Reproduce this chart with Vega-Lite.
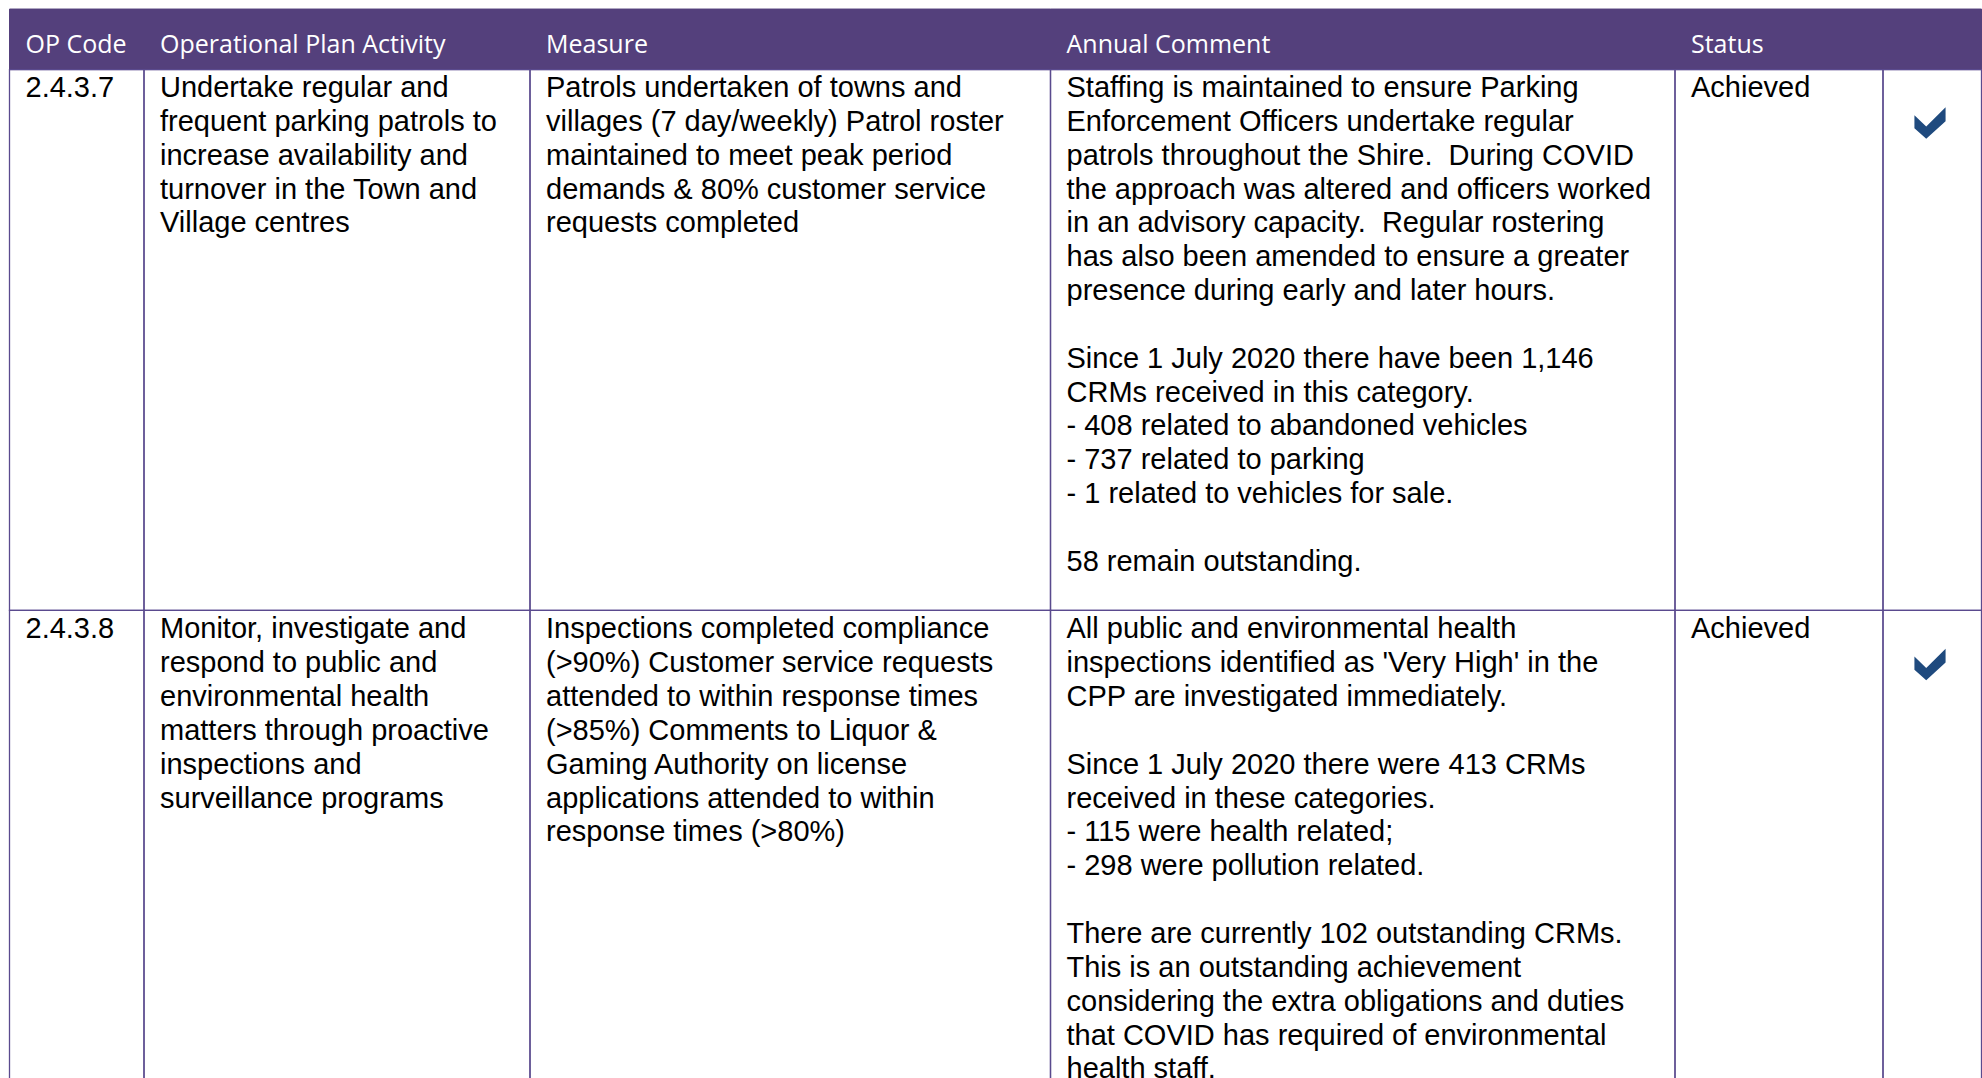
{
  "$schema": "https://vega.github.io/schema/vega-lite/v6.json",
  "width": 1982,
  "height": 1078,
  "autosize": {"type": "none"},
  "padding": 0,
  "background": "white",
  "config": {"view": {"stroke": null}},
  "datasets": {
    "columns": [
      {"col": "OP Code", "left": 9.5, "right": 144},
      {"col": "Operational Plan Activity", "left": 144, "right": 530},
      {"col": "Measure", "left": 530, "right": 1050.5},
      {"col": "Annual Comment", "left": 1050.5, "right": 1675},
      {"col": "Status", "left": 1675, "right": 1883},
      {"col": "Icon", "left": 1883, "right": 1981.5}
    ],
    "rows": [
      {"row": "header", "top": -2.57, "bottom": -0.78, "first": -1.27},
      {"row": "2.4.3.7", "top": -0.78, "bottom": 15.2, "first": 0.03},
      {"row": "2.4.3.8", "top": 15.2, "bottom": 29.8, "first": 16.03}
    ],
    "cells": [
      {"row": "header", "col": "OP Code", "lines": ["OP Code"]},
      {"row": "header", "col": "Operational Plan Activity", "lines": ["Operational Plan Activity"]},
      {"row": "header", "col": "Measure", "lines": ["Measure"]},
      {"row": "header", "col": "Annual Comment", "lines": ["Annual Comment"]},
      {"row": "header", "col": "Status", "lines": ["Status"]},
      {"row": "header", "col": "Icon", "lines": [""]},
      {"row": "2.4.3.7", "col": "OP Code", "lines": ["2.4.3.7"]},
      {"row": "2.4.3.7", "col": "Operational Plan Activity", "lines": ["Undertake regular and", "frequent parking patrols to", "increase availability and", "turnover in the Town and", "Village centres"]},
      {"row": "2.4.3.7", "col": "Measure", "lines": ["Patrols undertaken of towns and", "villages (7 day/weekly) Patrol roster", "maintained to meet peak period", "demands & 80% customer service", "requests completed"]},
      {"row": "2.4.3.7", "col": "Annual Comment", "lines": ["Staffing is maintained to ensure Parking", "Enforcement Officers undertake regular", "patrols throughout the Shire.\u00a0 During COVID", "the approach was altered and officers worked", "in an advisory capacity.\u00a0 Regular rostering", "has also been amended to ensure a greater", "presence during early and later hours.", "\u2800", "Since 1 July 2020 there have been 1,146", "CRMs received in this category.", "- 408 related to abandoned vehicles", "- 737 related to parking", "- 1 related to vehicles for sale.", "\u2800", "58 remain outstanding."]},
      {"row": "2.4.3.7", "col": "Status", "lines": ["Achieved"]},
      {"row": "2.4.3.7", "col": "Icon", "lines": [""], "icon": "check"},
      {"row": "2.4.3.8", "col": "OP Code", "lines": ["2.4.3.8"]},
      {"row": "2.4.3.8", "col": "Operational Plan Activity", "lines": ["Monitor, investigate and", "respond to public and", "environmental health", "matters through proactive", "inspections and", "surveillance programs"]},
      {"row": "2.4.3.8", "col": "Measure", "lines": ["Inspections completed compliance", "(>90%) Customer service requests", "attended to within response times", "(>85%) Comments to Liquor &", "Gaming Authority on license", "applications attended to within", "response times (>80%)"]},
      {"row": "2.4.3.8", "col": "Annual Comment", "lines": ["All public and environmental health", "inspections identified as 'Very High' in the", "CPP are investigated immediately.", "\u2800", "Since 1 July 2020 there were 413 CRMs", "received in these categories.", "- 115 were health related;", "- 298 were pollution related.", "\u2800", "There are currently 102 outstanding CRMs.", "This is an outstanding achievement", "considering the extra obligations and duties", "that COVID has required of environmental", "health staff."]},
      {"row": "2.4.3.8", "col": "Status", "lines": ["Achieved"]},
      {"row": "2.4.3.8", "col": "Icon", "lines": [""], "icon": "check"}
    ]
  },
  "data": {"name": "cells"},
  "transform": [
    {"lookup": "col", "from": {"data": {"name": "columns"}, "key": "col", "fields": ["left", "right"]}},
    {"lookup": "row", "from": {"data": {"name": "rows"}, "key": "row", "fields": ["top", "bottom", "first"]}}
  ],
  "layer": [
    {
      "transform": [{"filter": "datum.row === 'header'"}],
      "mark": {"type": "rect", "fill": "#54407C", "stroke": "#54407C", "strokeWidth": 1},
      "encoding": {
        "x": {"field": "left", "type": "quantitative", "scale": {"domain": [0, 1982], "nice": false, "zero": false}, "axis": null},
        "x2": {"field": "right"},
        "y": {"field": "top", "type": "quantitative", "scale": {"domain": [-2.8369, 29.0189], "nice": false, "zero": false, "reverse": true}, "axis": null},
        "y2": {"field": "bottom"}
      }
    },
    {
      "transform": [{"filter": "datum.row !== 'header'"}],
      "mark": {"type": "rect", "fill": null, "fillOpacity": 0, "stroke": "#5A4A8E", "strokeWidth": 1.3},
      "encoding": {
        "x": {"field": "left", "type": "quantitative", "scale": {"domain": [0, 1982], "nice": false, "zero": false}, "axis": null},
        "x2": {"field": "right"},
        "y": {"field": "top", "type": "quantitative", "scale": {"domain": [-2.8369, 29.0189], "nice": false, "zero": false, "reverse": true}, "axis": null},
        "y2": {"field": "bottom"}
      }
    },
    {
      "transform": [{"filter": "datum.row === 'header'"}],
      "mark": {"type": "text", "align": "left", "baseline": "alphabetic", "dx": 16, "font": "Open Sans", "fontSize": 25, "fill": "#FFFFFF"},
      "encoding": {
        "x": {"field": "left", "type": "quantitative", "scale": {"domain": [0, 1982], "nice": false, "zero": false}, "axis": null},
        "y": {"field": "first", "type": "quantitative", "scale": {"domain": [-2.8369, 29.0189], "nice": false, "zero": false, "reverse": true}, "axis": null},
        "text": {"field": "lines", "type": "nominal"}
      }
    },
    {
      "transform": [{"filter": "datum.row !== 'header'"}],
      "mark": {"type": "text", "align": "left", "baseline": "alphabetic", "dx": 16, "font": "Liberation Sans", "fontSize": 29, "lineHeight": 33.84, "fill": "#000000"},
      "encoding": {
        "x": {"field": "left", "type": "quantitative", "scale": {"domain": [0, 1982], "nice": false, "zero": false}, "axis": null},
        "y": {"field": "first", "type": "quantitative", "scale": {"domain": [-2.8369, 29.0189], "nice": false, "zero": false, "reverse": true}, "axis": null},
        "text": {"field": "lines", "type": "nominal"}
      }
    },
    {
      "transform": [{"filter": "datum.icon === 'check'"}],
      "mark": {"type": "point", "filled": true, "shape": "M-0.99,-0.5L-0.24,0.22L0.99,-1L0.99,-0.12L-0.24,1L-0.99,0.33Z", "size": 990, "xOffset": 47, "yOffset": 26, "fill": "#1F4A7E", "opacity": 1, "strokeWidth": 0},
      "encoding": {
        "x": {"field": "left", "type": "quantitative", "scale": {"domain": [0, 1982], "nice": false, "zero": false}, "axis": null},
        "y": {"field": "first", "type": "quantitative", "scale": {"domain": [-2.8369, 29.0189], "nice": false, "zero": false, "reverse": true}, "axis": null}
      }
    }
  ]
}
